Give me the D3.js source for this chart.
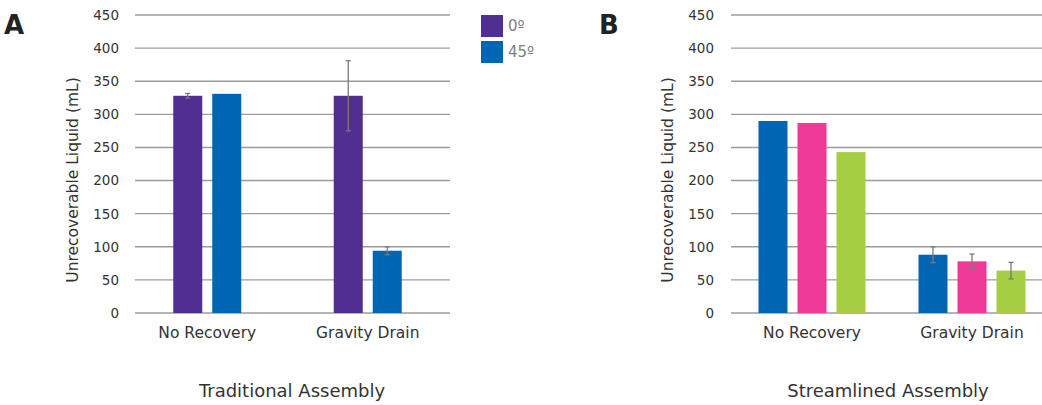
<!DOCTYPE html>
<html lang="en">
<head>
    <meta charset="UTF-8">
    <title>Unrecoverable Liquid</title>
    <script src="https://d3js.org/d3.v7.min.js"></script>
    <style>
        body {
            margin: 0;
            background: #fff;
            font-family: "DejaVu Sans", Verdana, sans-serif;
        }
        svg text {
            fill: #333;
        }
    </style>
</head>
<body>
    <svg id="chart" width="1042" height="405"></svg>
    <script>
        // shared
        const categories = ['No Recovery', 'Gravity Drain'];
        const yTicks = [0, 50, 100, 150, 200, 250, 300, 350, 400, 450];

        // panel A - traditional assembly
        const seriesA = ['0º', '45º'];
        const valuesA = [
            [328, 331],   // No Recovery
            [328, 94]     // Gravity Drain
        ];
        const errorsA = [
            [3.5, 0],
            [53, 6]
        ];
        const colorsA = ['#512e91', '#0066b3'];

        // panel B - streamlined assembly
        const seriesB = ['s1', 's2', 's3'];
        const valuesB = [
            [290, 287, 243],
            [88, 78, 64]
        ];
        const errorsB = [
            [0, 0, 0],
            [12, 11, 12.5]
        ];
        const colorsB = ['#0066b3', '#ee3a96', '#a6ce42'];

        const svg = d3.select('#chart');

        const y = d3.scaleLinear()
            .domain([0, 450])
            .range([313, 15]);

        function drawPanel(opts) {
            const g = svg.append('g');

            // gridlines
            g.selectAll('.grid')
                .data(yTicks)
                .enter().append('line')
                .attr('x1', opts.gridX[0])
                .attr('x2', opts.gridX[1])
                .attr('y1', d => y(d))
                .attr('y2', d => y(d))
                .attr('stroke', '#9c9c9c')
                .attr('stroke-width', 1.4);

            // tick labels
            g.selectAll('.tick')
                .data(yTicks)
                .enter().append('text')
                .attr('x', opts.tickX)
                .attr('y', d => y(d))
                .attr('dy', '0.36em')
                .attr('text-anchor', 'end')
                .style('font-size', '13.5px')
                .text(d => d);

            const x0 = d3.scaleBand()
                .domain(categories)
                .range(opts.xRange);

            const n = opts.series.length;
            const bw = x0.bandwidth();
            const x1 = d3.scaleBand()
                .domain(opts.series)
                .range([bw / 2 - n * 39 / 2, bw / 2 + n * 39 / 2])
                .paddingInner(10 / 39)
                .paddingOuter(5 / 39);

            const rows = [];
            categories.forEach((c, i) => {
                opts.series.forEach((s, j) => {
                    rows.push({ cat: c, ser: s, j: j, v: opts.values[i][j], e: opts.errors[i][j] });
                });
            });

            g.selectAll('.bar')
                .data(rows)
                .enter().append('rect')
                .attr('x', d => x0(d.cat) + x1(d.ser))
                .attr('width', x1.bandwidth())
                .attr('y', d => y(d.v))
                .attr('height', d => y(0) - y(d.v))
                .attr('fill', d => opts.colors[d.j]);

            // error bars
            const err = g.selectAll('.err')
                .data(rows.filter(d => d.e > 0))
                .enter().append('g')
                .attr('stroke', '#7a7a7a')
                .attr('stroke-width', 1.3);
            const cx = d => x0(d.cat) + x1(d.ser) + x1.bandwidth() / 2;
            err.append('line')
                .attr('x1', cx).attr('x2', cx)
                .attr('y1', d => y(d.v + d.e))
                .attr('y2', d => y(d.v - d.e));
            err.append('line')
                .attr('x1', d => cx(d) - 2.5).attr('x2', d => cx(d) + 2.5)
                .attr('y1', d => y(d.v + d.e)).attr('y2', d => y(d.v + d.e));
            err.append('line')
                .attr('x1', d => cx(d) - 2.5).attr('x2', d => cx(d) + 2.5)
                .attr('y1', d => y(d.v - d.e)).attr('y2', d => y(d.v - d.e));

            // category labels
            g.selectAll('.cat')
                .data(categories)
                .enter().append('text')
                .attr('x', d => x0(d) + bw / 2)
                .attr('y', 338)
                .attr('text-anchor', 'middle')
                .style('font-size', '15.5px')
                .text(d => d);

            // y title
            g.append('text')
                .attr('transform', `translate(${opts.yTitleX},180) rotate(-90)`)
                .attr('text-anchor', 'middle')
                .style('font-size', '15.5px')
                .text('Unrecoverable Liquid (mL)');

            // panel title
            g.append('text')
                .attr('x', opts.titleX)
                .attr('y', 397)
                .attr('text-anchor', 'middle')
                .style('font-size', '18px')
                .text(opts.title);

            // panel letter
            g.append('text')
                .attr('x', opts.letterX)
                .attr('y', 34)
                .style('font-size', '26px')
                .style('font-weight', 'bold')
                .style('fill', '#222')
                .text(opts.letter);
        }

        drawPanel({
            series: seriesA, values: valuesA, errors: errorsA, colors: colorsA,
            xRange: [127, 448], gridX: [135, 450], tickX: 119,
            yTitleX: 78, titleX: 292, title: 'Traditional Assembly',
            letter: 'A', letterX: 4
        });

        drawPanel({
            series: seriesB, values: valuesB, errors: errorsB, colors: colorsB,
            xRange: [732, 1052], gridX: [731, 1042], tickX: 714,
            yTitleX: 673, titleX: 888, title: 'Streamlined Assembly',
            letter: 'B', letterX: 599
        });

        // legend for panel A
        const legend = svg.append('g')
            .selectAll('g')
            .data(seriesA)
            .enter().append('g')
            .attr('transform', (d, i) => `translate(481,${15 + i * 26})`);
        legend.append('rect')
            .attr('width', 22)
            .attr('height', 22)
            .attr('fill', (d, i) => colorsA[i]);
        legend.append('text')
            .attr('x', 27)
            .attr('y', 11)
            .attr('dy', '0.36em')
            .style('font-size', '15px')
            .style('fill', '#808080')
            .text(d => d);
    </script>
</body>
</html>
